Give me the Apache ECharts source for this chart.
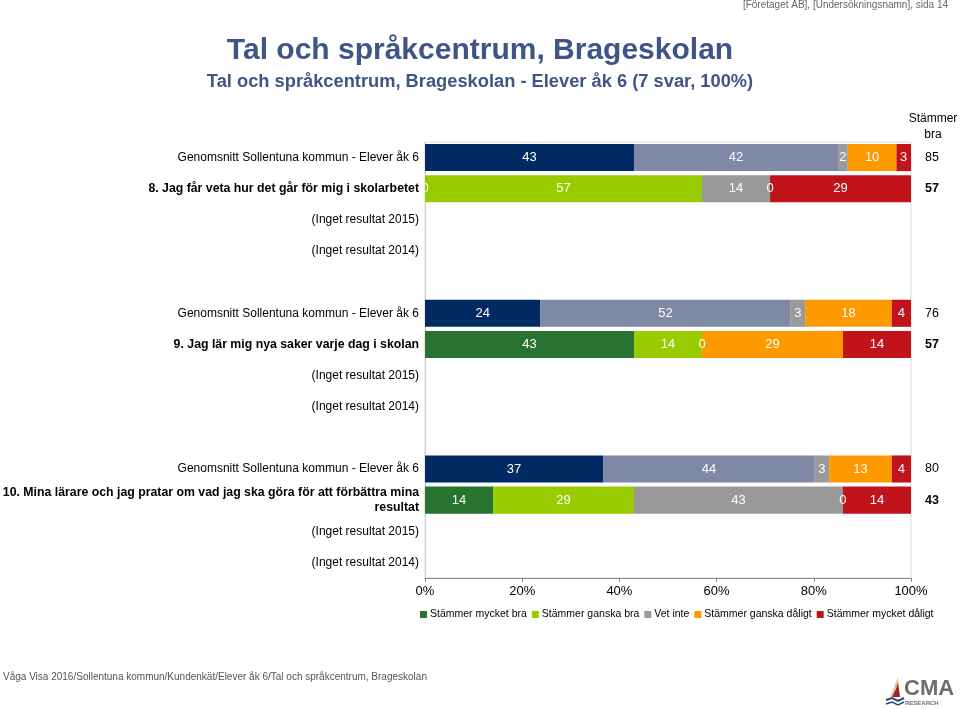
<!DOCTYPE html>
<html>
<head>
<meta charset="utf-8">
<script src="https://cdn.jsdelivr.net/npm/echarts@6/dist/echarts.min.js"></script>
<style>html,body{margin:0;padding:0;background:#fff;}#c{width:960px;height:709px;}</style>
</head>
<body>
<div id="c"></div>
<script>
// ---- Data ----
const categories = [
  'Genomsnitt Sollentuna kommun - Elever åk 6',
  '8. Jag får veta hur det går för mig i skolarbetet',
  '(Inget resultat 2015)',
  '(Inget resultat 2014)',
  '',
  'Genomsnitt Sollentuna kommun - Elever åk 6',
  '9. Jag lär mig nya saker varje dag i skolan',
  '(Inget resultat 2015)',
  '(Inget resultat 2014)',
  '',
  'Genomsnitt Sollentuna kommun - Elever åk 6',
  '10. Mina lärare och jag pratar om vad jag ska göra för att förbättra mina\nresultat',
  '(Inget resultat 2015)',
  '(Inget resultat 2014)'
];
const rowTypes = ['avg','q','none','none','gap','avg','q','none','none','gap','avg','q','none','none'];
const seriesNames = ['Stämmer mycket bra','Stämmer ganska bra','Vet inte','Stämmer ganska dåligt','Stämmer mycket dåligt'];
const mycketBra   = [43, 0, null, null, null, 24, 43, null, null, null, 37, 14, null, null];
const ganskaBra   = [42, 57, null, null, null, 52, 14, null, null, null, 44, 29, null, null];
const vetInte     = [2, 14, null, null, null, 3, 0, null, null, null, 3, 43, null, null];
const ganskaDalig = [10, 0, null, null, null, 18, 29, null, null, null, 13, 0, null, null];
const mycketDalig = [3, 29, null, null, null, 4, 14, null, null, null, 4, 14, null, null];
const stammerBra  = [85, 57, null, null, null, 76, 57, null, null, null, 80, 43, null, null];
const xTicks = [0, 20, 40, 60, 80, 100];

// ---- Styles ----
const qColors   = ['#27732F', '#99CC00', '#999999', '#FF9900', '#C0141A'];
const avgColors = ['#002A61', '#7F89A6', '#9A9A9A', '#FF9900', '#C0141A'];
const FONT = 'Liberation Sans, Arial, sans-serif';

const allSeries = [mycketBra, ganskaBra, vetInte, ganskaDalig, mycketDalig];
const rowSums = categories.map((_, i) => allSeries.reduce((s, arr) => s + (arr[i] || 0), 0));

const series = allSeries.map((arr, si) => ({
  name: seriesNames[si],
  type: 'bar',
  stack: 'total',
  barCategoryGap: '13%',
  itemStyle: { color: qColors[si] },
  label: {
    show: true,
    position: 'inside',
    color: '#fff',
    fontSize: 13,
    fontFamily: FONT,
    formatter: p => (p.data && p.data.raw != null) ? String(p.data.raw) : ''
  },
  emphasis: { disabled: true },
  data: arr.map((v, i) => {
    if (v == null) return { value: null, raw: null };
    const item = { value: v / rowSums[i] * 100, raw: v };
    if (rowTypes[i] === 'avg') item.itemStyle = { color: avgColors[si] };
    return item;
  })
}));

const chart = echarts.init(document.getElementById('c'), null, { renderer: 'canvas' });
chart.setOption({
  backgroundColor: '#fff',
  animation: false,
  textStyle: { fontFamily: FONT },
  title: [
    { text: 'Tal och språkcentrum, Brageskolan', left: 'center', top: 36, padding: 0,
      textStyle: { fontSize: 30, fontWeight: 'bold', color: '#3F5487', fontFamily: FONT } },
    { text: 'Tal och språkcentrum, Brageskolan - Elever åk 6 (7 svar, 100%)', left: 'center', top: 73, padding: 0,
      textStyle: { fontSize: 18.3, fontWeight: 'bold', color: '#3F5487', fontFamily: FONT } },
    { text: '[Företaget AB], [Undersökningsnamn], sida 14', right: 12, top: 0, padding: 0,
      textStyle: { fontSize: 10, fontWeight: 'normal', color: '#666', fontFamily: FONT } },
    { text: 'Våga Visa 2016/Sollentuna kommun/Kundenkät/Elever åk 6/Tal och språkcentrum, Brageskolan', left: 3, top: 672, padding: 0,
      textStyle: { fontSize: 10, fontWeight: 'normal', color: '#555', fontFamily: FONT } }
  ],
  legend: {
    data: seriesNames,
    left: 415, top: 604,
    icon: 'rect', itemWidth: 7, itemHeight: 7, itemGap: 5,
    textStyle: { fontSize: 10.5, color: '#000', fontFamily: FONT, padding: [0, 0, 0, -2] },
    selectedMode: false
  },
  grid: {
    left: 425, right: 49, top: 142, bottom: 131,
    show: true, borderColor: '#d9d9d9', borderWidth: 1,
    containLabel: false, outerBoundsMode: 'none'
  },
  xAxis: {
    type: 'value', min: xTicks[0], max: xTicks[xTicks.length - 1], interval: 20,
    axisLine: { show: true, lineStyle: { color: '#888' } },
    axisTick: { show: true, length: 4, lineStyle: { color: '#888' } },
    splitLine: { show: false },
    axisLabel: { formatter: '{value}%', fontSize: 13, color: '#000', margin: 7, fontFamily: FONT }
  },
  yAxis: [
    {
      type: 'category', inverse: true, data: categories,
      axisLine: { show: true, lineStyle: { color: '#cfcfcf' } },
      axisTick: { show: false },
      splitLine: { show: false },
      axisLabel: {
        margin: 6, fontSize: 12, color: '#000', fontFamily: FONT, align: 'right', lineHeight: 15,
        formatter: (v, i) => {
          if (!v) return '';
          const style = rowTypes[i] === 'q' ? 'b' : 'n';
          return v.split('\n').map(l => '{' + style + '|' + l + '}').join('\n');
        },
        rich: {
          b: { fontWeight: 'bold', fontSize: 12.3, color: '#000', fontFamily: FONT, lineHeight: 15, align: 'right' },
          n: { fontWeight: 'normal', fontSize: 12, color: '#000', fontFamily: FONT, lineHeight: 15, align: 'right' }
        }
      }
    },
    {
      type: 'category', inverse: true, data: categories, position: 'right',
      axisLine: { show: false }, axisTick: { show: false }, splitLine: { show: false },
      axisLabel: {
        margin: 21, align: 'center', fontSize: 13, color: '#000', fontFamily: FONT,
        formatter: (v, i) => {
          const s = stammerBra[i];
          if (s == null) return '';
          return rowTypes[i] === 'q' ? '{b|' + s + '}' : '{n|' + s + '}';
        },
        rich: {
          b: { fontWeight: 'bold', fontSize: 12.5, color: '#000', fontFamily: FONT },
          n: { fontWeight: 'normal', fontSize: 12.5, color: '#000', fontFamily: FONT }
        }
      }
    }
  ],
  graphic: [
    { type: 'text', x: 933, y: 111,
      style: { text: 'Stämmer\nbra', font: '12px ' + FONT, lineHeight: 16, fill: '#000', align: 'center', textAlign: 'center' } },
    { type: 'group', x: 884, y: 677, children: [
      { type: 'polygon', shape: { points: [[14, 0], [6, 20], [16, 20]] }, style: { fill: '#D9C9A0' } },
      { type: 'polygon', shape: { points: [[14, 6], [16, 20], [8, 20], [12, 12]] }, style: { fill: '#A0222E' } },
      { type: 'polyline', shape: { points: [[2, 23], [8, 21], [14, 24], [20, 21]] }, style: { stroke: '#2B4A7A', lineWidth: 2, fill: null } },
      { type: 'polyline', shape: { points: [[2, 27], [8, 25], [14, 28], [20, 25]] }, style: { stroke: '#2B4A7A', lineWidth: 1.5, fill: null } },
      { type: 'text', x: 20, y: 1, style: { text: 'CMA', font: 'bold 22px ' + FONT, fill: '#6d6d6d' } },
      { type: 'text', x: 21, y: 23, style: { text: 'RESEARCH', font: 'bold 6px ' + FONT, fill: '#6d6d6d' } }
    ]}
  ],
  series: series
});
</script>
</body>
</html>
